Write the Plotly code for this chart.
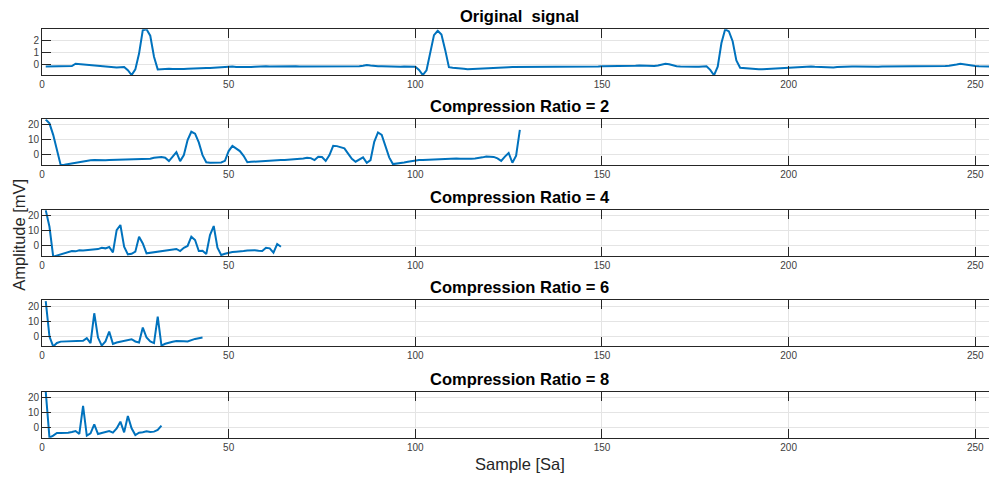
import plotly.graph_objects as go

# ---------------- data ----------------
titles = ["Original  signal", "Compression Ratio = 2", "Compression Ratio = 4",
          "Compression Ratio = 6", "Compression Ratio = 8"]

original_signal = [
    -0.15, -0.15, -0.16, -0.15, -0.14, -0.12, -0.10, -0.11, 0.08, 0.05,
    0.0, -0.03, -0.06, -0.08, -0.09, -0.11, -0.13, -0.2, -0.21, -0.22,
    -0.2, -0.18, -0.45, -0.84, -0.38, 0.9, 2.8, 2.87, 2.35, 0.65,
    -0.38, -0.35, -0.33, -0.32, -0.34, -0.36, -0.36, -0.34, -0.32, -0.3,
    -0.3, -0.28, -0.27, -0.27, -0.26, -0.24, -0.22, -0.2, -0.18, -0.16,
    -0.15, -0.19, -0.2, -0.2, -0.2, -0.19, -0.16, -0.14, -0.13, -0.13,
    -0.15, -0.14, -0.14, -0.16, -0.17, -0.15, -0.13, -0.13, -0.14, -0.14,
    -0.15, -0.16, -0.14, -0.14, -0.15, -0.16, -0.16, -0.14, -0.13, -0.13,
    -0.15, -0.14, -0.12, -0.11, -0.13, -0.08, -0.02, -0.06, -0.1, -0.12,
    -0.12, -0.14, -0.14, -0.13, -0.15, -0.16, -0.15, -0.14, -0.14, -0.16,
    -0.42, -0.84, -0.45, 1.05, 2.4, 2.75, 2.45, 1.2, -0.2, -0.25,
    -0.26, -0.28, -0.32, -0.36, -0.34, -0.32, -0.31, -0.3, -0.3, -0.3,
    -0.28, -0.26, -0.24, -0.22, -0.2, -0.19, -0.19, -0.18, -0.18, -0.17,
    -0.16, -0.16, -0.17, -0.18, -0.18, -0.17, -0.16, -0.16, -0.15, -0.16,
    -0.17, -0.16, -0.15, -0.16, -0.15, -0.14, -0.15, -0.16, -0.15, -0.12,
    -0.12, -0.13, -0.14, -0.13, -0.13, -0.12, -0.12, -0.1, -0.08, -0.06,
    -0.08, -0.1, -0.1, -0.11, -0.06, 0.04, 0.08, 0.03, -0.05, -0.12,
    -0.14, -0.13, -0.16, -0.17, -0.16, -0.17, -0.16, -0.12, -0.42, -0.86,
    -0.16, 1.76, 2.87, 2.7, 1.9, 0.35, -0.25, -0.28, -0.3, -0.32,
    -0.35, -0.36, -0.36, -0.34, -0.32, -0.3, -0.29, -0.28, -0.24, -0.2,
    -0.2, -0.19, -0.17, -0.16, -0.15, -0.14, -0.16, -0.18, -0.2, -0.22,
    -0.22, -0.22, -0.18, -0.16, -0.15, -0.14, -0.15, -0.15, -0.16, -0.15,
    -0.14, -0.15, -0.17, -0.16, -0.14, -0.14, -0.15, -0.16, -0.15, -0.14,
    -0.15, -0.15, -0.16, -0.15, -0.13, -0.12, -0.14, -0.15, -0.14, -0.12,
    -0.11, -0.1, -0.08, -0.05, 0.02, 0.08, 0.02, -0.04, -0.06, -0.1,
    -0.12, -0.12, -0.14, -0.16, -0.17, -0.17,
]

cr2 = [
    23.3, 20.7, 13.0, 2.9, -7.1, -7.0, -6.6, -6.0, -5.5, -5.0,
    -4.5, -4.2, -3.9, -3.8, -4.0, -4.1, -3.9, -3.8, -3.7, -3.7,
    -3.6, -3.6, -3.5, -3.5, -3.4, -3.4, -3.3, -3.2, -2.9, -2.3,
    -1.8, -1.8, -2.2, -4.5, -1.5, 1.5, -4.5, -0.5, 9.5, 15.1,
    13.8, 8.0, -0.5, -5.3, -5.6, -5.6, -5.5, -5.4, -4.3, 2.2,
    5.7, 4.0, 2.2, -1.0, -5.3, -5.0, -4.8, -4.6, -4.5, -4.4,
    -4.2, -4.1, -4.0, -3.8, -3.7, -3.6, -3.4, -3.2, -3.1, -2.7,
    -2.2, -2.5, -3.8, -1.6, -1.8, -4.4, -0.5, 5.7, 5.5, 4.8,
    4.0, 0.5, -3.0, -4.9, -3.5, -2.0, -5.6, -3.8, 8.4, 14.6,
    13.0, 5.0, -2.0, -6.5, -6.3, -6.0, -5.5, -5.0, -4.5, -3.9,
    -3.8, -3.7, -3.6, -3.6, -3.5, -3.3, -3.0, -2.8, -2.7, -2.7,
    -2.8, -3.0, -3.1, -3.0, -2.9, -2.8, -2.6, -2.0, -1.4, -1.3,
    -1.7, -2.7, -4.4, -1.5, 0.9, -5.6, -0.9, 16.4,
]

cr4 = [
    23.5, 12.4, -7.5, -6.8, -6.0, -5.0, -4.2, -3.8, -4.0, -3.3,
    -3.4, -3.2, -3.0, -2.8, -2.5, -1.6, -2.0, -1.1, -4.7, 10.2,
    13.6, -0.9, -6.0, -5.6, -4.2, 5.8, 1.3, -5.3, -5.0, -4.5,
    -4.2, -3.9, -3.6, -3.4, -3.1, -2.4, -3.8, -1.6, -0.4, 5.8,
    3.6, -3.8, -3.6, -5.8, 6.9, 12.9, -1.6, -6.4, -5.6, -4.9,
    -4.5, -4.3, -4.2, -3.8, -3.4, -3.1, -3.2, -3.6, -3.8, -1.6,
    -2.0, -4.9, 0.9, -0.9,
]

cr6 = [
    23.3, -0.2, -6.8, -4.5, -3.6, -3.5, -3.7, -3.5, -3.3, -3.2,
    -3.1, -1.3, -4.6, 15.2, -0.9, -6.2, -3.5, 3.1, -5.1, -4.2,
    -3.7, -3.5, -3.0, -2.0, -3.5, -4.2, 5.7, -0.9, -3.5, -4.6,
    13.0, -6.2, -5.0, -4.2, -3.7, -3.2, -3.1, -3.3, -3.5, -2.5,
    -1.8, -1.3, -0.9,
]

cr8 = [
    23.8, -7.2, -5.8, -4.0, -4.0, -4.0, -3.8, -3.3, -2.7, -4.7,
    14.2, -5.8, -4.3, 1.8, -4.7, -4.0, -3.5, -2.7, -3.8, -1.0,
    3.6, -3.6, 7.4, -0.9, -5.4, -3.8, -3.5, -2.9, -3.4, -3.1,
    -2.0, 0.9,
]

x_ticks = [0, 50, 100, 150, 200, 250]
y_ticks_original = [0, 1, 2]
y_ticks_compressed = [0, 10, 20]

# ---------------- layout geometry ----------------
W, H = 989, 479
LEFT = 42.3
PX_PER_SAMPLE = 3.732
x_max = (W - LEFT) / PX_PER_SAMPLE
plot_w = W - LEFT

tops = [29.3, 119.3, 210.3, 300.3, 391.7]
ax_h = 46.0
y_ranges = [[-0.86, 2.87], [-7.3, 23.4], [-7.3, 23.4], [-6.7, 23.8], [-7.2, 23.8]]

series = [original_signal, cr2, cr4, cr6, cr8]
ink = "#262626"
grid = "#e4e4e4"
font_family = "Liberation Sans, Arial, Helvetica, sans-serif"

fig = go.Figure()
layout = dict(
    width=W, height=H, autosize=False,
    margin=dict(l=LEFT, r=0, t=0, b=0, pad=0, autoexpand=False),
    paper_bgcolor="white", plot_bgcolor="white",
    showlegend=False,
    font=dict(family=font_family, size=10, color=ink),
)

annotations = []
for i, vals in enumerate(series):
    n = i + 1
    sfx = "" if n == 1 else str(n)
    xs = list(range(1, len(vals) + 1))
    fig.add_trace(go.Scatter(
        x=xs, y=vals, mode="lines",
        line=dict(color="#0072BD", width=2),
        xaxis="x" + sfx, yaxis="y" + sfx, hoverinfo="skip",
    ))
    top = tops[i]
    bot = top + ax_h
    layout["xaxis" + sfx] = dict(
        domain=[0, 1], anchor="y" + sfx, range=[0, x_max], automargin=False,
        tickmode="array", tickvals=x_ticks,
        ticks="inside", ticklen=9, tickwidth=1, tickcolor=ink,
        showline=True, linecolor=ink, linewidth=1, mirror="ticks",
        showgrid=True, gridcolor=grid, gridwidth=1, zeroline=False,
        tickfont=dict(size=10, color="#404040", family=font_family),
        fixedrange=True,
    )
    layout["yaxis" + sfx] = dict(
        domain=[1 - bot / H, 1 - top / H], anchor="x" + sfx, range=y_ranges[i],
        automargin=False,
        tickmode="array", tickvals=y_ticks_original if i == 0 else y_ticks_compressed,
        ticks="inside", ticklen=9, tickwidth=1, tickcolor=ink,
        showline=True, linecolor=ink, linewidth=1, mirror=False,
        showgrid=True, gridcolor=grid, gridwidth=1, zeroline=False,
        tickfont=dict(size=10, color="#404040", family=font_family),
        fixedrange=True,
    )
    annotations.append(dict(
        text="<b>" + titles[i] + "</b>", xref="paper", yref="paper",
        x=(520 - LEFT) / plot_w, y=1 - (top - 13) / H,
        xanchor="center", yanchor="middle", showarrow=False,
        font=dict(size=16.5, color="black", family=font_family),
    ))

annotations.append(dict(
    text="Sample [Sa]", xref="paper", yref="paper",
    x=(520 - LEFT) / plot_w, y=1 - 464 / H,
    xanchor="center", yanchor="middle", showarrow=False,
    font=dict(size=16.5, color=ink, family=font_family),
))
annotations.append(dict(
    text="Amplitude [mV]", xref="paper", yref="paper",
    x=(19 - LEFT) / plot_w, y=1 - 235 / H, textangle=-90,
    xanchor="center", yanchor="middle", showarrow=False,
    font=dict(size=16.5, color=ink, family=font_family),
))
layout["annotations"] = annotations

fig.update_layout(**layout)
fig.write_html(
    "out.html",
    config={"displayModeBar": False},
    post_script="document.body.style.margin='0';document.body.style.padding='0';"
                "document.documentElement.style.overflow='hidden';",
)
